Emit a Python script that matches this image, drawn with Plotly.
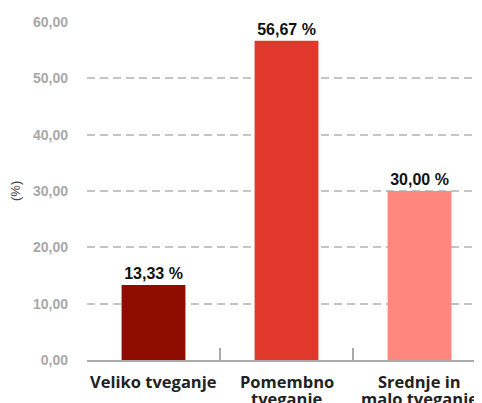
import plotly.graph_objects as go

categories = ["Veliko tveganje", "Pomembno<br>tveganje", "Srednje in<br>malo tveganje"]
values = [13.33, 56.67, 30.00]
colors = ["#8E0C00", "#E0392B", "#FF877D"]
y_ticks = [0, 10, 20, 30, 40, 50, 60]

FONT = "Liberation Sans, Arial"
LABEL_FONT = "Open Sans, Liberation Sans"

L, R, T, B = 79, 4, 14, 51
PLOT_W = 482 - L - R

fig = go.Figure(go.Bar(
    x=categories, y=values, marker=dict(color=colors, line=dict(width=0)),
    width=0.48,
    text=values, texttemplate="%{y:.2f} %", textposition="outside",
    textfont=dict(family=FONT, size=16, color="#111", weight="bold"),
    cliponaxis=False,
))

# category labels, one annotation per line (tight line spacing as in the original)
for cat in categories:
    for i, line in enumerate(cat.split("<br>")):
        fig.add_annotation(
            x=cat, y=0, xref="x", yref="y", text=line, showarrow=False,
            yanchor="middle", yshift=-21 - 17.5 * i,
            font=dict(family=LABEL_FONT, size=16.5, color="#222", weight="bold"),
        )

fig.add_annotation(
    x=(7 - L) / PLOT_W, y=0.5, xref="paper", yref="paper", text="(%)",
    showarrow=False, textangle=-90, xanchor="center", yanchor="middle",
    font=dict(family=FONT, size=13, color="#444"),
)

fig.update_layout(
    width=482, height=403,
    margin=dict(l=L, r=R, t=T, b=B, autoexpand=False),
    plot_bgcolor="white", paper_bgcolor="white",
    separators=", ",
    showlegend=False,
    font=dict(family=FONT),
    xaxis=dict(
        range=[-0.5, 2.5], automargin=False,
        showline=True, linecolor="#aaaaaa", linewidth=1.5,
        ticks="inside", ticklen=12, tickcolor="#aaaaaa", tickwidth=1.5,
        tickson="boundaries", showgrid=False, showticklabels=False,
    ),
    yaxis=dict(
        range=[0, 60], tickvals=y_ticks, tickformat=".2f", automargin=False,
        showgrid=True, gridcolor="#c4c4c4", gridwidth=2, griddash="8px,5px",
        zeroline=False, showline=False, ticks="", ticklabelstandoff=18,
        tickfont=dict(family=FONT, size=14, color="#a8a8a8", weight="bold"),
    ),
)

fig.write_html("out.html")
